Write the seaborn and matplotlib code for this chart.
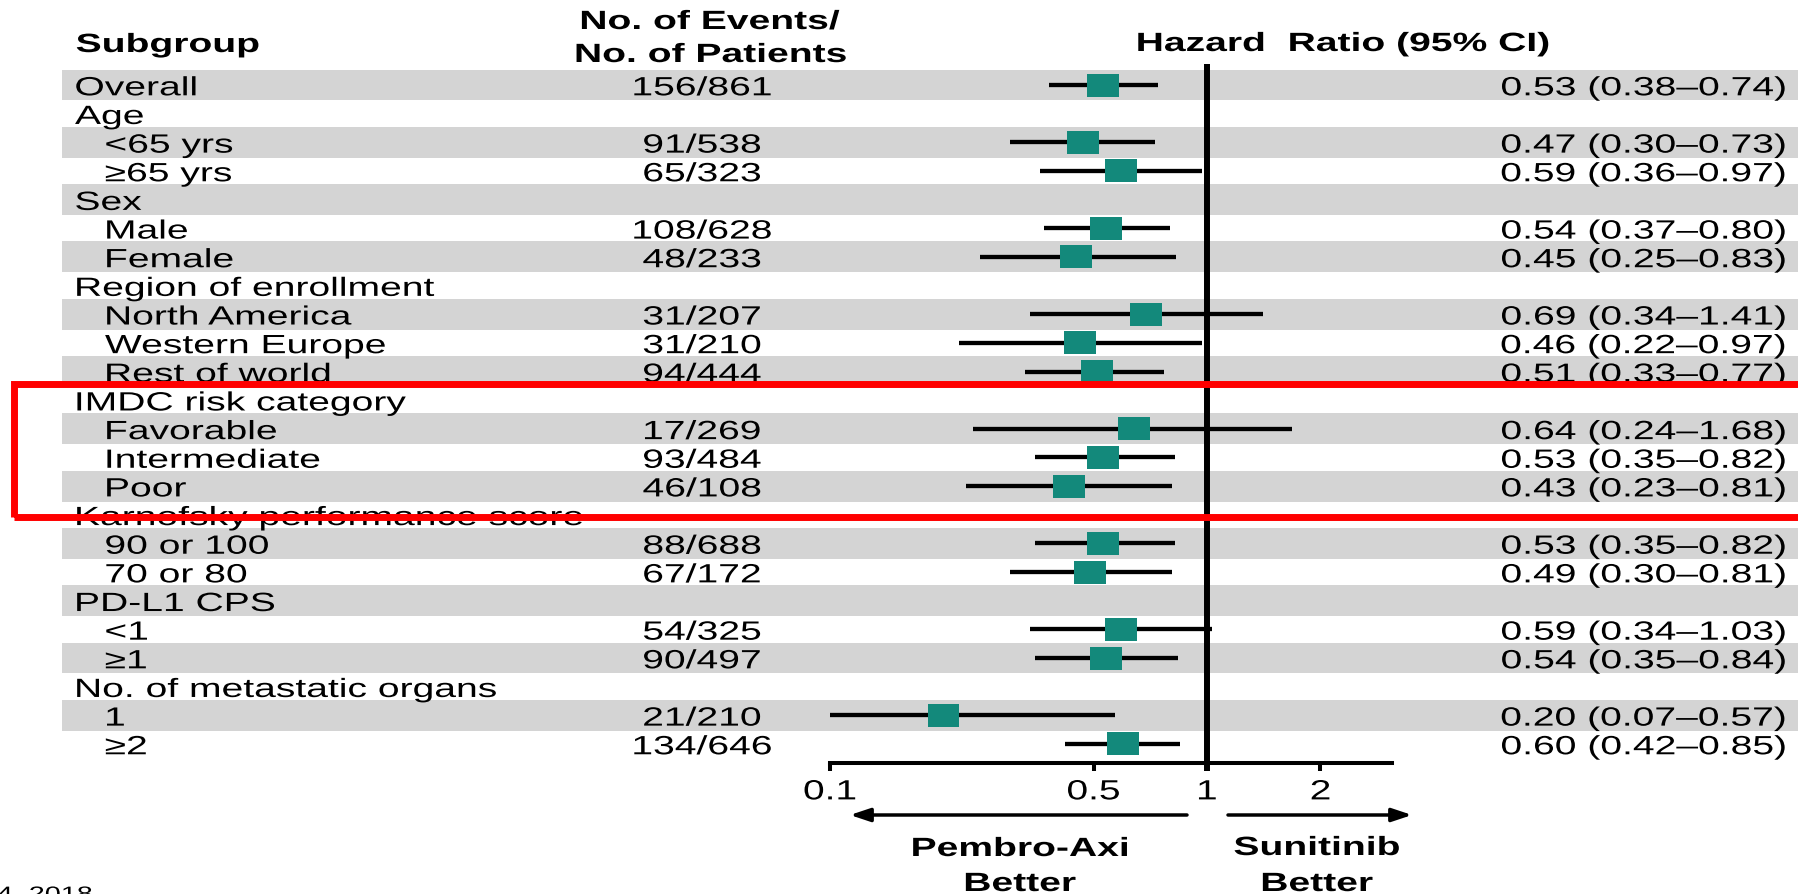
import numpy as np
import pandas as pd
import matplotlib
matplotlib.use("Agg")
import matplotlib.pyplot as plt
import seaborn as sns
from matplotlib.patches import Rectangle
from matplotlib.transforms import Affine2D, blended_transform_factory
from matplotlib.patheffects import AbstractPathEffect

# ---------------- data ----------------
labels = ["Overall", "Age", "<65 yrs", "\u226565 yrs", "Sex", "Male", "Female",
          "Region of enrollment", "North America", "Western Europe", "Rest of world",
          "IMDC risk category", "Favorable", "Intermediate", "Poor",
          "Karnofsky performance score", "90 or 100", "70 or 80",
          "PD-L1 CPS", "<1", "\u22651",
          "No. of metastatic organs", "1", "\u22652"]
levels = [0, 0, 1, 1, 0, 1, 1, 0, 1, 1, 1, 0, 1, 1, 1, 0, 1, 1, 0, 1, 1, 0, 1, 1]
events = ["156/861", "", "91/538", "65/323", "", "108/628", "48/233", "",
          "31/207", "31/210", "94/444", "", "17/269", "93/484", "46/108", "",
          "88/688", "67/172", "", "54/325", "90/497", "", "21/210", "134/646"]
nan = np.nan
hr = [0.53, nan, 0.47, 0.59, nan, 0.54, 0.45, nan, 0.69, 0.46, 0.51, nan,
      0.64, 0.53, 0.43, nan, 0.53, 0.49, nan, 0.59, 0.54, nan, 0.20, 0.60]
ci_low = [0.38, nan, 0.30, 0.36, nan, 0.37, 0.25, nan, 0.34, 0.22, 0.33, nan,
          0.24, 0.35, 0.23, nan, 0.35, 0.30, nan, 0.34, 0.35, nan, 0.07, 0.42]
ci_high = [0.74, nan, 0.73, 0.97, nan, 0.80, 0.83, nan, 1.41, 0.97, 0.77, nan,
           1.68, 0.82, 0.81, nan, 0.82, 0.81, nan, 1.03, 0.84, nan, 0.57, 0.85]
x_ticks = [0.1, 0.5, 1, 2]
x_tick_labels = ["0.1", "0.5", "1", "2"]

# ---------------- style ----------------
sns.set_theme(style="white")
plt.rcParams["font.family"] = ["Liberation Sans", "DejaVu Sans"]

W, H = 1799, 895
TEAL = "#13897b"
GRAY = "#d4d4d4"
FS = 19
SX = 1.48


class HStretch(AbstractPathEffect):
    """Widen glyphs horizontally about an anchor (text stays real text)."""
    def __init__(self, sx=SX, anchor="left"):
        super().__init__()
        self.sx = sx
        self.anchor = anchor

    def draw_path(self, renderer, gc, tpath, affine, rgbFace=None):
        bb = tpath.get_extents(affine)
        if self.anchor == "left":
            x0 = bb.x0
        elif self.anchor == "right":
            x0 = bb.x1
        else:
            x0 = 0.5 * (bb.x0 + bb.x1)
        t = affine + Affine2D().translate(-x0, 0).scale(self.sx, 1).translate(x0, 0)
        renderer.draw_path(gc, tpath, t, rgbFace)


def pe(anchor):
    return [HStretch(SX, anchor)]


fig = plt.figure(figsize=(W / 100, H / 100), dpi=100)
fig.patch.set_facecolor("white")

row0, dy = 86.0, 28.65
ax_left, ax_right = 830, 1392
ax_top, ax_bot = 65, 764
ax = fig.add_axes([ax_left / W, 1 - ax_bot / H, (ax_right - ax_left) / W, (ax_bot - ax_top) / H])
ax.patch.set_alpha(0)
ax.set_xscale("log")
ax.set_xlim(0.1, 10 ** ((ax_right - 1207) / 377.0))
ax.set_ylim((ax_bot - row0) / dy, (ax_top - row0) / dy)

n = len(labels)
rows = np.arange(n)
T = blended_transform_factory(fig.transFigure, ax.transData)

# alternating gray bands
for r in rows[::2]:
    fig.add_artist(Rectangle((62 / W, r - 0.54), 1 - 62 / W, 1.08, transform=T,
                             facecolor=GRAY, edgecolor="none", zorder=-1))

df = pd.DataFrame({"row": rows, "hr": hr, "lo": ci_low, "hi": ci_high})
d = df.dropna()

# confidence intervals
ax.hlines(d["row"], d["lo"], d["hi"], color="black", lw=3.1, zorder=3)

# reference line at HR = 1
ax.plot([1, 1], [ax.get_ylim()[1], (772 - row0) / dy], color="black", lw=4.3,
        solid_capstyle="butt", clip_on=False, zorder=5)

# point estimates (wide squares)
rect_marker = [(-1, -0.72), (1, -0.72), (1, 0.72), (-1, 0.72), (-1, -0.72)]
sns.scatterplot(data=d, x="hr", y="row", marker=rect_marker, s=23.0 ** 2,
                color=TEAL, edgecolor="none", linewidth=0, ax=ax, zorder=6,
                legend=False)
ax.set_xlim(0.1, 10 ** ((ax_right - 1207) / 377.0))
ax.set_ylim((ax_bot - row0) / dy, (ax_top - row0) / dy)

# axes styling
for s in ["left", "top", "right"]:
    ax.spines[s].set_visible(False)
ax.spines["bottom"].set_linewidth(2.9)
ax.spines["bottom"].set_color("black")
ax.set_yticks([])
ax.set_xticks(x_ticks)
ax.set_xticklabels(x_tick_labels)
ax.xaxis.set_minor_locator(matplotlib.ticker.NullLocator())
ax.tick_params(axis="x", which="major", direction="out", length=5.8, width=2.9,
               pad=6, labelsize=20, colors="black", bottom=True)
ax.set_xlabel("")
ax.set_ylabel("")

# row texts
for r in rows:
    y = r + 0.36
    x = 75 if levels[r] == 0 else 105
    ax.text(x / W, y, labels[r], transform=T, ha="left", va="baseline",
            fontsize=FS, color="black", path_effects=pe("left"), zorder=7)
    if events[r]:
        ax.text(702 / W, y, events[r], transform=T, ha="center", va="baseline",
                fontsize=FS, color="black", path_effects=pe("center"), zorder=7)
    if not np.isnan(hr[r]):
        s = f"{hr[r]:.2f} ({ci_low[r]:.2f}\u2013{ci_high[r]:.2f})"
        ax.text(1786 / W, y, s, transform=T, ha="right", va="baseline",
                fontsize=FS, color="black", path_effects=pe("right"), zorder=7)


def ftext(x, ybase, s, ha="left", bold=True, fs=FS):
    fig.text(x / W, 1 - ybase / H, s, ha=ha, va="baseline", fontsize=fs,
             fontweight="bold" if bold else "normal", color="black",
             path_effects=pe({"left": "left", "center": "center", "right": "right"}[ha]))


# headers
ftext(76, 53, "Subgroup")
ftext(710, 30, "No. of Events/", ha="center")
ftext(711, 63, "No. of Patients", ha="center")
ftext(1343, 52, "Hazard  Ratio (95% CI)", ha="center")

# favour labels
ftext(1020, 857, "Pembro-Axi", ha="center")
ftext(1020, 892, "Better", ha="center")
ftext(1317, 856, "Sunitinib", ha="center")
ftext(1317, 892, "Better", ha="center")
ftext(-3, 901, "4, 2018", bold=False, fs=14)

# arrows
yarr = H - 816
arrow_kw = dict(arrowstyle="-|>,head_length=1.2,head_width=0.4", lw=2.5,
                color="black", shrinkA=0, shrinkB=0, mutation_scale=10)
ax.annotate("", xy=(850, yarr), xytext=(1187, yarr), xycoords="figure pixels",
            textcoords="figure pixels", arrowprops=arrow_kw, annotation_clip=False)
ax.annotate("", xy=(1412, yarr), xytext=(1228, yarr), xycoords="figure pixels",
            textcoords="figure pixels", arrowprops=arrow_kw, annotation_clip=False)

# red highlight box
fig.add_artist(Rectangle((14 / W, 1 - 518 / H), (1840 - 14) / W, (518 - 385) / H,
                         transform=fig.transFigure, fill=False, edgecolor="#ff0000",
                         lw=5.0, zorder=20, clip_on=False))

fig.canvas.draw()
for lab in ax.get_xticklabels():
    lab.set_path_effects([HStretch(1.4, "center")])

fig.savefig("out.png", dpi=100)
